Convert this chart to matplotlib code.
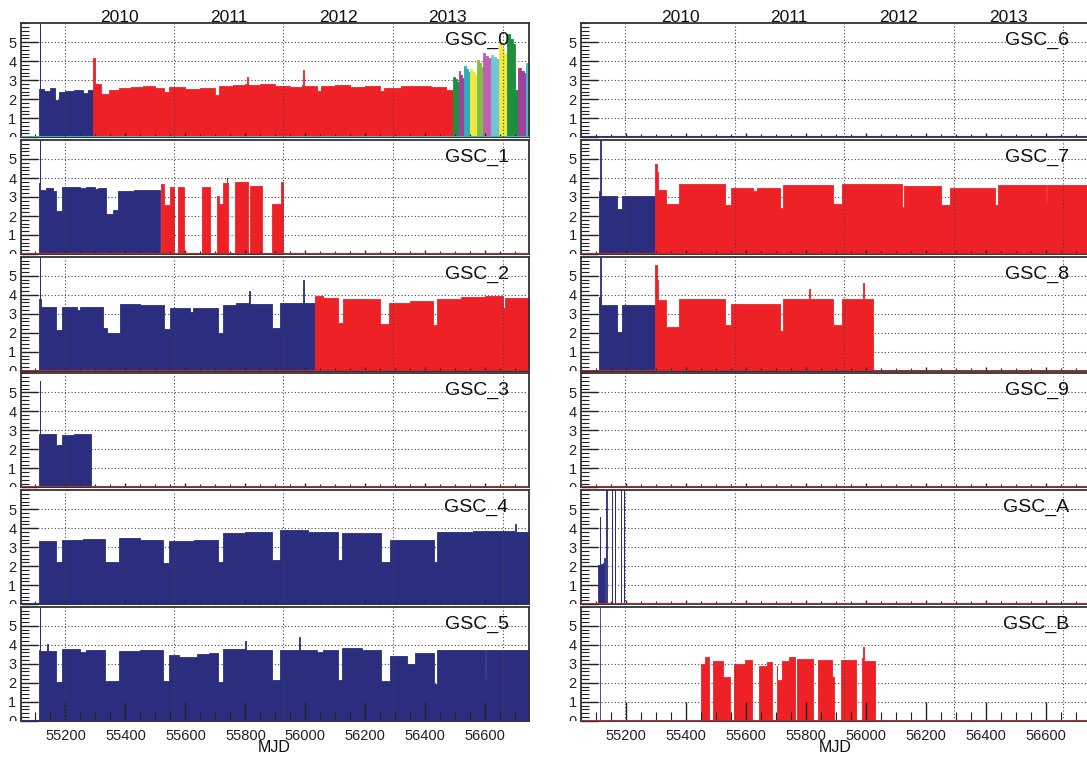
import matplotlib
matplotlib.use('Agg')
import matplotlib.pyplot as plt
import matplotlib.ticker as ticker
from matplotlib.transforms import Bbox, TransformedBbox, blended_transform_factory

plt.rcParams['font.family'] = ['Liberation Sans', 'DejaVu Sans']

NAVY = '#2b2e7e'
RED = '#ee2226'

# ---- data (MJD bin edges / rate values) ----
gsc0_blue_edges = [55111, 55114, 55115.5, 55130, 55150, 55165, 55178, 55200, 55230, 55260, 55275, 55291]
gsc0_blue_vals = [2.55, 7.0, 2.55, 2.45, 2.6, 1.95, 2.4, 2.45, 2.5, 2.35, 2.5]
gsc0_red_edges = [55293, 55300, 55318, 55345, 55380, 55420, 55460, 55500, 55530, 55545, 55600,
                  55650, 55700, 55712, 55760, 55800, 55806, 55809, 55850, 55900, 55950, 55990,
                  55993, 55996, 56040, 56052, 56100, 56150, 56200, 56250, 56262, 56320, 56380,
                  56420, 56470, 56493]
gsc0_red_vals = [4.2, 2.8, 2.3, 2.5, 2.6, 2.65, 2.7, 2.6, 2.4, 2.65, 2.55, 2.6, 2.25, 2.7, 2.75,
                 2.8, 3.2, 2.75, 2.8, 2.7, 2.65, 2.75, 3.55, 2.7, 2.45, 2.7, 2.75, 2.65, 2.72,
                 2.45, 2.6, 2.7, 2.7, 2.65, 2.5]
gsc0_late_edges = [56493, 56499, 56505, 56511, 56517, 56523, 56529, 56535, 56541, 56548, 56556,
                   56564, 56573, 56579, 56585, 56591, 56600, 56609, 56618, 56627, 56636, 56646,
                   56654, 56662, 56671, 56681, 56691, 56700, 56708, 56718, 56728, 56737, 56745]
gsc0_late_vals = [3.2, 3.05, 2.9, 3.5, 3.3, 3.1, 3.75, 3.6, 3.45, 3.6, 3.45, 3.3, 4.05, 3.9, 3.7,
                  4.45, 4.3, 4.2, 4.35, 4.25, 4.1, 5.0, 4.7, 4.4, 5.45, 5.2, 4.9, 2.5, 3.65, 3.5,
                  3.4, 3.9]
gsc0_late_period = [0, 0, 0, 1, 1, 1, 2, 2, 2, 3, 3, 3, 4, 4, 4, 5, 5, 5, 6, 6, 6, 7, 7, 7,
                    8, 8, 8, 8, 9, 9, 9, 10]

gsc1_blue_edges = [55111, 55114, 55115.5, 55135, 55159, 55170, 55189, 55248, 55270, 55298, 55310,
                   55335, 55359, 55376, 55430, 55515]
gsc1_blue_vals = [3.75, 7.0, 3.35, 3.5, 3.3, 2.25, 3.55, 3.45, 3.55, 3.4, 3.5, 2.1, 2.3, 3.3, 3.35]
gsc1_red_edges = [55518, 55530, 55547, 55563, 55575, 55596, 55654, 55682, 55704, 55712, 55724,
                  55737, 55740, 55743, 55765, 55809, 55814, 55854, 55887, 55920, 55926]
gsc1_red_vals = [3.7, 2.6, 3.55, 0, 3.55, 0, 3.55, 0, 3.05, 2.65, 3.75, 4.0, 3.75, 0, 3.8, 0,
                 3.6, 0, 2.65, 3.8]

gsc2_blue_edges = [55111, 55114, 55115.5, 55117, 55170, 55187, 55237, 55248, 55326, 55339, 55382,
                   55450, 55528, 55548, 55615, 55626, 55710, 55726, 55770, 55811, 55814, 55887,
                   55917, 55992, 55994, 56032]
gsc2_blue_vals = [3.75, 7.0, 3.75, 3.35, 2.15, 3.37, 3.2, 3.35, 2.25, 2.0, 3.5, 3.45, 2.2, 3.3,
                  3.1, 3.3, 2.0, 3.45, 3.55, 4.2, 3.5, 2.25, 3.55, 4.8, 3.55]
gsc2_red_edges = [56032, 56060, 56109, 56126, 56180, 56248, 56279, 56350, 56426, 56439, 56520,
                  56600, 56660, 56664, 56745]
gsc2_red_vals = [3.95, 3.85, 2.5, 3.75, 3.8, 2.45, 3.55, 3.65, 2.4, 3.8, 3.9, 3.95, 3.3, 3.85]

gsc3_blue_edges = [55111, 55114, 55115.5, 55170, 55190, 55230, 55284]
gsc3_blue_vals = [2.8, 5.6, 2.8, 2.25, 2.75, 2.8]

gsc4_blue_edges = [55111, 55170, 55187, 55260, 55332, 55378, 55450, 55526, 55546, 55630, 55710,
                   55724, 55800, 55887, 55917, 56010, 56110, 56121, 56252, 56281, 56428, 56439,
                   56560, 56700, 56703, 56745]
gsc4_blue_vals = [3.3, 2.2, 3.35, 3.45, 2.2, 3.5, 3.4, 2.15, 3.3, 3.4, 2.2, 3.75, 3.8, 2.3, 3.9,
                  3.8, 2.3, 3.75, 2.2, 3.35, 2.2, 3.8, 3.85, 4.2, 3.8]

gsc5_blue_edges = [55111, 55114, 55115.5, 55140, 55143, 55170, 55187, 55250, 55270, 55332, 55378,
                   55450, 55526, 55546, 55580, 55640, 55680, 55710, 55724, 55800, 55803, 55887,
                   55917, 55980, 55983, 56040, 56060, 56110, 56121, 56190, 56252, 56281, 56340,
                   56365, 56428, 56439, 56600, 56603, 56745]
gsc5_blue_vals = [3.75, 7.0, 3.65, 4.05, 3.65, 2.05, 3.8, 3.6, 3.75, 2.1, 3.65, 3.75, 2.1, 3.45,
                  3.35, 3.5, 3.55, 2.05, 3.8, 4.2, 3.75, 2.15, 3.75, 4.4, 3.75, 3.6, 3.75, 2.15,
                  3.85, 3.7, 2.1, 3.4, 3.0, 3.55, 1.95, 3.75, 2.2, 3.75]

gsc7_blue_edges = [55110, 55114, 55115.5, 55169, 55186, 55297]
gsc7_blue_vals = [3.3, 7.0, 3.05, 2.35, 3.05]
gsc7_red_edges = [55297, 55302, 55308, 55333, 55378, 55530, 55549, 55624, 55636, 55713, 55724,
                  55891, 55919, 56119, 56127, 56252, 56280, 56430, 56441, 56600, 56604, 56745]
gsc7_red_vals = [4.75, 4.3, 3.35, 2.65, 3.7, 2.6, 3.5, 3.3, 3.5, 2.4, 3.65, 2.65, 3.7, 2.5, 3.6,
                 2.6, 3.45, 2.6, 3.65, 2.7, 3.65]

gsc8_blue_edges = [55110, 55114, 55115.5, 55118, 55169, 55186, 55297]
gsc8_blue_vals = [3.9, 7.0, 3.9, 3.45, 2.05, 3.45]
gsc8_red_edges = [55297, 55302, 55308, 55333, 55378, 55530, 55549, 55713, 55724, 55811, 55814,
                  55891, 55919, 55992, 55995, 56024]
gsc8_red_vals = [5.55, 4.8, 3.7, 2.3, 3.77, 2.4, 3.5, 2.1, 3.75, 4.3, 3.75, 2.4, 3.8, 4.6, 3.75]

gscA_blue_edges = [55108, 55112, 55114, 55122, 55126, 55130, 55135, 55136, 55152, 55153, 55163,
                   55164, 55182, 55183, 55194, 55195]
gscA_blue_vals = [2.05, 4.6, 2.1, 2.15, 2.45, 0, 7.0, 0, 7.0, 0, 7.0, 0, 7.0, 0, 7.0]

gscB_blue_edges = [55112, 55113.5]
gscB_blue_vals = [7.0]
gscB_red_edges = [55450, 55463, 55478, 55489, 55524, 55547, 55561, 55597, 55621, 55643, 55670,
                  55688, 55702, 55705, 55721, 55745, 55763, 55769, 55824, 55841, 55886, 55894,
                  55916, 55967, 55986, 55992, 55995, 56030]
gscB_red_vals = [3.0, 3.35, 0, 3.15, 2.3, 0, 3.0, 3.2, 0, 2.9, 3.1, 0, 2.9, 2.15, 3.15, 3.35, 0,
                 3.25, 0, 3.2, 2.3, 0, 3.2, 0, 3.3, 3.9, 3.15]

year_labels = ['2010', '2011', '2012', '2013']
year_mid = [55380, 55744, 56110, 56475]
year_start = [55197, 55562, 55927, 56293, 56658]

late_colors = ['#1f8f3f', '#a0409a', '#2ab0b8', '#efe93e', '#7cc04a', '#c25fb0', '#6cc8d8',
               '#efe93e', '#1f8f3f', '#a0409a', '#3ac0c8']

panels = {
    'GSC_0': (0, 0, [(gsc0_blue_edges, gsc0_blue_vals, NAVY), (gsc0_red_edges, gsc0_red_vals, RED)], '#3ab5be'),
    'GSC_1': (0, 1, [(gsc1_blue_edges, gsc1_blue_vals, NAVY), (gsc1_red_edges, gsc1_red_vals, RED)], '#c0262c'),
    'GSC_2': (0, 2, [(gsc2_blue_edges, gsc2_blue_vals, NAVY), (gsc2_red_edges, gsc2_red_vals, RED)], '#c0262c'),
    'GSC_3': (0, 3, [(gsc3_blue_edges, gsc3_blue_vals, NAVY)], '#c0262c'),
    'GSC_4': (0, 4, [(gsc4_blue_edges, gsc4_blue_vals, NAVY)], NAVY),
    'GSC_5': (0, 5, [(gsc5_blue_edges, gsc5_blue_vals, NAVY)], NAVY),
    'GSC_6': (1, 0, [], NAVY),
    'GSC_7': (1, 1, [(gsc7_blue_edges, gsc7_blue_vals, NAVY), (gsc7_red_edges, gsc7_red_vals, RED)], '#c0262c'),
    'GSC_8': (1, 2, [(gsc8_blue_edges, gsc8_blue_vals, NAVY), (gsc8_red_edges, gsc8_red_vals, RED)], '#c0262c'),
    'GSC_9': (1, 3, [], '#c0262c'),
    'GSC_A': (1, 4, [(gscA_blue_edges, gscA_blue_vals, NAVY)], '#c0262c'),
    'GSC_B': (1, 5, [(gscB_blue_edges, gscB_blue_vals, NAVY), (gscB_red_edges, gscB_red_vals, RED)], '#c0262c'),
}

W, H = 1087, 761
fig = plt.figure(figsize=(W / 100, H / 100), dpi=100)
col_x = [20.5, 581]
ax_w = 508
row_top = 23.3
row_step = 116.7
ax_h = 114


def draw_hist(ax, edges, vals, color):
    ax.fill_between(edges, list(vals) + [vals[-1]], step='post', color=color, lw=0.6, zorder=1)


for name, (col, row, series, base_col) in panels.items():
    top = row_top + row * row_step
    ax = fig.add_axes([col_x[col] / W, 1 - (top + ax_h) / H, ax_w / W, ax_h / H])
    ax.set_xlim(55050, 56744)
    ax.set_ylim(0, 6)

    for y in range(1, 6):
        ax.axhline(y, color='#444444', lw=0.8, ls=(0, (1, 2)), zorder=0.5)

    for edges, vals, color in series:
        draw_hist(ax, edges, vals, color)
    if name == 'GSC_0':
        for i, v in enumerate(gsc0_late_vals):
            c = late_colors[gsc0_late_period[i]]
            draw_hist(ax, gsc0_late_edges[i:i + 2], [v], c)

    ax.axhline(0, color=base_col, lw=1.5, zorder=3)
    for x in year_start:
        ax.axvline(x, color='#444444', lw=0.8, ls=(0, (1, 2)), zorder=3)

    for s in ax.spines.values():
        s.set_color('#333333')
        s.set_linewidth(1.3)

    ax.yaxis.set_major_locator(ticker.FixedLocator([0, 1, 2, 3, 4, 5]))
    ax.yaxis.set_minor_locator(ticker.MultipleLocator(0.2))
    ax.xaxis.set_major_locator(ticker.MultipleLocator(200))
    ax.xaxis.set_minor_locator(ticker.MultipleLocator(50))
    ax.tick_params(axis='y', which='major', direction='in', length=12, width=1.0, pad=3,
                   labelsize=10.5, colors='#222222')
    ax.tick_params(axis='y', which='minor', direction='in', length=5.5, width=0.8, colors='#222222')
    bottom = row == 5
    ax.tick_params(axis='x', which='major', direction='in', length=13.5 if bottom else 3,
                   width=1.0, pad=6, labelsize=10.5, labelbottom=bottom, colors='#222222')
    ax.tick_params(axis='x', which='minor', direction='in', length=6.5 if bottom else 2,
                   width=0.8, colors='#222222')

    # zero label cut at the pad edge, as in the ROOT canvas
    clip = TransformedBbox(Bbox([[0, 1 - (top + ax_h) / H], [1, 1]]), fig.transFigure)
    for t in ax.yaxis.get_major_ticks():
        t.label1.set_clip_box(clip)
        t.label1.set_clip_on(True)

    ax.text(1 - 20 / ax_w, 1 - 21.7 / ax_h, name, transform=ax.transAxes, ha='right',
            va='baseline', fontsize=14, color='#111111', zorder=5)

    if row == 0:
        trans = blended_transform_factory(ax.transData, ax.transAxes)
        for lab, xm in zip(year_labels, year_mid):
            ax.text(xm, 1.008, lab, transform=trans, ha='center', va='baseline',
                    fontsize=12.5, color='#111111')
    if bottom:
        fig.text((col_x[col] + ax_w / 2) / W, 1 - 747 / H, 'MJD', ha='center', va='center',
                 fontsize=11.5, color='#111111')

fig.savefig('out.png', dpi=100)
